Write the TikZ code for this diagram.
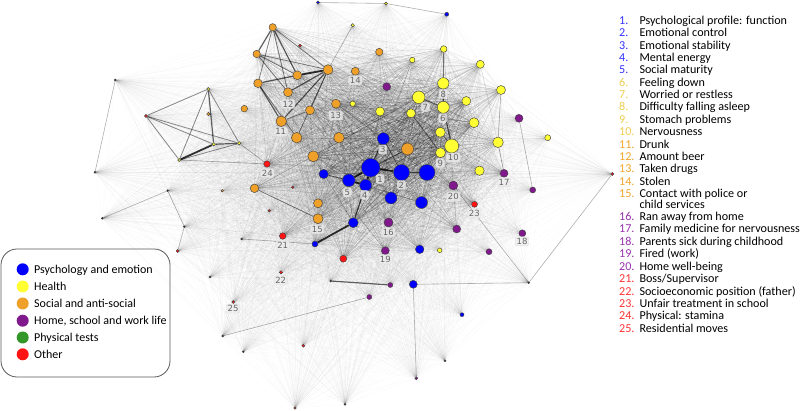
\documentclass[tikz,border=0pt]{standalone}
\usepackage{fontspec}
\setmainfont{Carlito}
\newfontfamily\lblfont{DejaVu Sans}
\usetikzlibrary{backgrounds}
\definecolor{cblue}{RGB}{0,0,255}
\definecolor{cyel}{RGB}{255,255,51}
\definecolor{cora}{RGB}{238,160,40}
\definecolor{cpur}{RGB}{128,25,140}
\definecolor{cred}{RGB}{255,20,20}
\definecolor{cgrn}{RGB}{50,150,40}
\definecolor{cblk}{RGB}{35,35,35}
\definecolor{tblue}{RGB}{50,50,255}
\definecolor{tyel}{RGB}{238,205,80}
\definecolor{tora}{RGB}{240,165,45}
\definecolor{tpur}{RGB}{150,50,170}
\definecolor{tred}{RGB}{255,50,50}
\newcommand{\listitem}[4]{\node[listtxt,text=#3] (k#1) at (619,#2+3.9) {#1.};
  \node[listtxt] (t#1) at (639.3,#2+3.9) {#4};}
\tikzset{
  vx/.style={circle, draw=black!75, line width=0.45pt, inner sep=0pt, minimum size=#1},
  faint/.style={draw=black, opacity=0.025, line width=0.35pt},
  corel/.style={draw=black, opacity=0.07, line width=0.35pt},
  innerl/.style={draw=black, opacity=0.12, line width=0.4pt},
  ed/.style={draw=black, opacity=#1},
  lb/.style={font=\lblfont\fontsize{8.5}{9}\selectfont, text=black!60, fill=black!7, fill opacity=0.8, text opacity=1, rounded corners=2pt, inner sep=1.3pt, draw=black!12},
  listtxt/.style={anchor=base west, font=\fontsize{12.1}{13}\selectfont, inner sep=0pt},
  legtxt/.style={anchor=base west, font=\fontsize{12}{13}\selectfont, inner sep=0pt},
  legdot/.style={circle, inner sep=0pt, minimum size=12pt, draw=none}
}
\begin{document}
\begin{tikzpicture}[x=1pt,y=-1pt]
\useasboundingbox (0,0) rectangle (800,411);
% ---------------- nodes
\foreach \n/\x/\y/\d/\c in {
1/370.7/167.7/18.6/cblue, 2/401.5/172.5/16/cblue, 3/383.3/138.7/12/cblue, 4/365.7/185.3/12/cblue,
5/348.8/180.3/12.6/cblue, 6/427/172.5/16/cblue, 7/391/198/12/cblue, 8/421.5/202.5/12/cblue,
9/353.3/222.7/10/cblue, 10/323.7/174/9.4/cblue,
11/443.3/107.3/12/cyel, 12/418.7/97.3/12.6/cyel, 13/443.3/83.3/11.4/cyel, 14/440.5/152.7/10/cyel,
15/451.7/146/14/cyel, 16/440.3/132.3/10/cyel, 17/474/122.7/10/cyel, 18/466.3/101/9/cyel,
19/380/111.5/9/cyel, 20/411/113.3/9/cyel,
21/407.5/149/12/cora, 22/339/137.7/10.6/cora, 23/313.3/156.3/11/cora, 24/336/103.7/9/cora,
25/310/110.3/9/cora, 26/281.3/121.3/10.6/cora, 27/296.7/137.7/10.6/cora, 28/288/92.3/9/cora,
29/297.3/75.3/9/cora, 30/328/69.7/10/cora, 31/258/83.3/8.6/cora, 32/256.7/54/7.4/cora,
33/272.7/27.3/7.4/cora, 34/355.3/71.3/8/cora, 35/379.3/52/7.4/cora, 36/318/218.7/10/cora,
37/318/203.3/9/cora, 38/254.5/188.3/8.6/cora,
39/498/142.3/10.6/cyel, 40/501/90/9/cyel, 41/479.5/170.7/9.4/cyel, 42/480.3/64.3/8/cyel,
43/443.7/49/6.6/cyel, 44/412.3/60/5.4/cyel, 45/352.7/103.7/5.4/cyel,
46/453.3/185.5/9/cpur, 47/388.5/222.5/9/cpur, 48/385.3/250.7/8/cpur, 49/504/173.3/8/cpur,
50/386.7/86.7/8/cpur, 51/267/164/6.6/cred, 52/282.7/236/6.6/cred, 53/474.5/204.3/6/cred,
54/343.3/258.7/7/cred, 55/419.7/249.3/8.6/cblue, 56/456.7/229/8/cpur, 57/315/244/6/cblue,
58/244.3/108.7/6.6/cora, 59/519/118.3/8/cpur, 60/532.7/190/6/cpur, 61/522.3/233.3/7/cpur,
62/489/251.7/6/cpur, 63/439.7/250.3/4.6/cyel, 64/413.3/284.3/8/cblue, 65/390.3/285/5/cpur,
66/369.3/297/5/cpur, 67/462/314.7/4/cblue, 68/416.3/378.3/3/cpur, 69/547.7/137.7/6/cyel,
70/612.3/174/3/cred, 71/446.7/14.3/4/cblue, 72/318/2.5/3/cblue, 73/386/3.5/3/cyel,
74/352.7/25.3/3.4/cyel, 75/300/45.7/3/cred, 76/292.7/187.3/2.6/cred, 77/269.3/210.7/2.6/cred,
78/281/272.3/3.4/cred, 79/233.3/302/3/cred, 80/303.3/345.7/3/cred, 81/295/408/2.4/cred,
82/146/116/3/cred, 83/177.7/251/3/cred, 84/208.3/89/3/cyel, 85/213.7/144.3/3.4/cyel,
86/239.3/143.3/3.4/cyel, 87/179.3/160/3/cyel, 88/208.3/114/3.4/cora, 89/222.3/190.7/2.6/cora,
90/115.3/80/2/cblk, 91/95/172.3/2/cblk, 92/167.7/190.7/2/cblk, 93/102.3/218.3/2/cblk,
94/184.3/226.7/2/cblk, 95/241.7/239/2/cblk, 96/330.7/281/2/cblk, 97/210/277/2/cblk,
98/222.7/336/2/cblk, 99/243.3/351.7/2/cblk, 100/345/404.3/2/cblk, 101/445/360.7/2/cblk,
102/528.7/282.7/2/cblk}
  \node[vx=\d pt, fill=\c] (v\n) at (\x,\y) {};
% ---------------- edges
\begin{pgfonlayer}{background}
\foreach \i in {1,...,101}{
  \pgfmathtruncatemacro\jj{\i+1}
  \foreach \j in {\jj,...,102}{\draw[faint] (v\i) -- (v\j);}
}
\foreach \i in {1,...,56}{
  \pgfmathtruncatemacro\jj{\i+1}
  \foreach \j in {\jj,...,57}{\draw[corel] (v\i) -- (v\j);}
}
\foreach \i in {1,...,23}{
  \pgfmathtruncatemacro\jj{\i+1}
  \foreach \j in {\jj,...,24}{\draw[innerl] (v\i) -- (v\j);}
}
\foreach \a/\b in {1/2,1/5,1/4,4/5,9/57,85/87,29/30}
  \draw[ed=0.8, line width=1.8pt] (v\a) -- (v\b);
\foreach \a/\b in {31/26,85/86,84/85,96/65,33/32,33/29,28/30,26/30,31/29,13/11,11/15,14/15,1/3,9/4}
  \draw[ed=0.6, line width=1.2pt] (v\a) -- (v\b);
\foreach \a/\b in {33/30,33/31,33/28,32/29,32/30,25/30,31/27,32/28,25/26,27/30,3/2,2/6,5/10,12/11,43/13,16/15,20/14,82/84,82/86,82/85,82/87,84/86,84/87,87/86,38/36,1/21}
  \draw[ed=0.45, line width=0.8pt] (v\a) -- (v\b);
\foreach \a/\b in {90/91,92/93,92/94,94/83,86/51,87/51,95/57,59/60,39/49,40/39,70/102,64/68,98/66,46/102,72/73,73/71,64/102,74/30}
  \draw[ed=0.3, line width=0.6pt] (v\a) -- (v\b);
\end{pgfonlayer}
% ---------------- node labels
\foreach \k/\x/\y in {1/380/179, 2/401.3/185, 3/382.7/149.7, 4/364.7/195, 5/347.3/192.3,
  6/442.7/118.3, 7/425.3/107, 8/443.3/94, 9/440.2/163, 10/453.3/157.7, 11/280.7/131.7,
  12/288/104, 13/335.7/115.3, 14/355.3/80.3, 15/317.3/229, 16/388.3/232.3, 17/504/182.3,
  18/522/241.3, 19/385.3/259.3, 20/453.3/196.5, 21/282.7/245, 22/280.7/280, 23/474.3/213.3,
  24/267.3/173, 25/233/308.7}
  \node[lb] (L\k) at (\x,\y) {\k};
% ---------------- legend
\node[draw=black!65, line width=0.8pt, rounded corners=16pt, minimum width=169pt,
  minimum height=128pt, inner sep=0pt] (legend) at (85.5,313) {};
\foreach \i/\y/\c/\t in {1/269.3/cblue/Psychology and emotion, 2/286.5/cyel/Health,
  3/303.5/cora/Social and anti-social, 4/320.7/cpur/{Home, school and work life},
  5/337.5/cgrn/Physical tests, 6/354.3/cred/Other}{
  \node[legdot, fill=\c] (g\i) at (22.7,\y) {};
  \node[legtxt] (gt\i) at (34,\y+4) {\t};
}
% ---------------- list
\listitem{1}{20.7}{tblue}{Psychological profile: function}
\listitem{2}{33}{tblue}{Emotional control}
\listitem{3}{45.3}{tblue}{Emotional stability}
\listitem{4}{57.7}{tblue}{Mental energy}
\listitem{5}{70}{tblue}{Social maturity}
\listitem{6}{82.3}{tyel}{Feeling down}
\listitem{7}{94.7}{tyel}{Worried or restless}
\listitem{8}{107.1}{tyel}{Difficulty falling asleep}
\listitem{9}{119.4}{tyel}{Stomach problems}
\listitem{10}{131.8}{tyel}{Nervousness}
\listitem{11}{144.2}{tora}{Drunk}
\listitem{12}{156.6}{tora}{Amount beer}
\listitem{13}{169}{tora}{Taken drugs}
\listitem{14}{181.5}{tora}{Stolen}
\listitem{15}{194}{tora}{Contact with police or}
\node[listtxt] (t15b) at (639.3,208.6) {child services};
\listitem{16}{216.7}{tpur}{Ran away from home}
\listitem{17}{229}{tpur}{Family medicine for nervousness}
\listitem{18}{241.5}{tpur}{Parents sick during childhood}
\listitem{19}{254}{tpur}{Fired (work)}
\listitem{20}{266.5}{tpur}{Home well-being}
\listitem{21}{279}{tred}{Boss/Supervisor}
\listitem{22}{291.3}{tred}{Socioeconomic position (father)}
\listitem{23}{303.7}{tred}{Unfair treatment in school}
\listitem{24}{316}{tred}{Physical: stamina}
\listitem{25}{328.3}{tred}{Residential moves}
\end{tikzpicture}
\end{document}
